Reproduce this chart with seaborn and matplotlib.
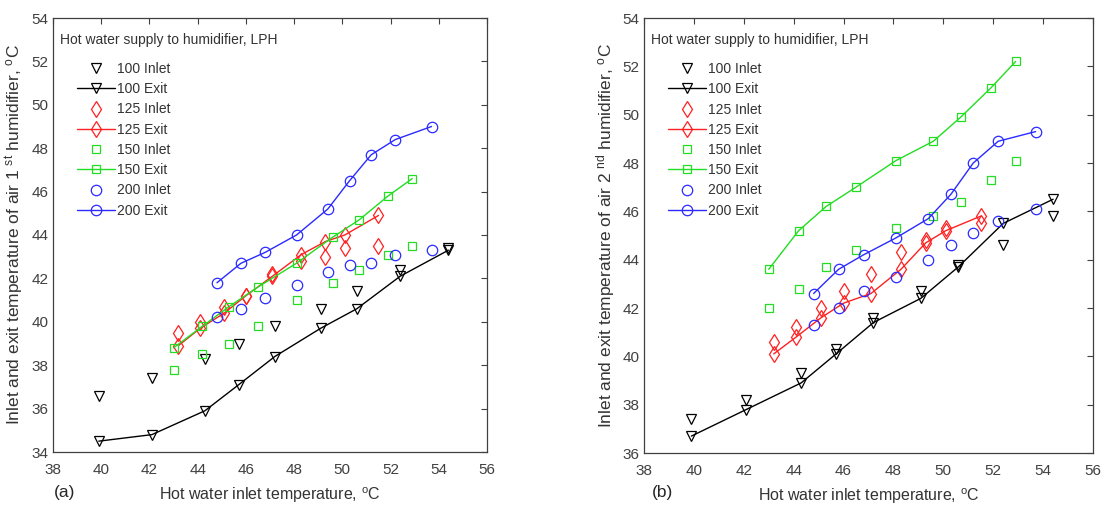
import matplotlib
matplotlib.use("Agg")
from matplotlib import pyplot as plt
import seaborn as sns

# ---------------------------------------------------------------- data (a)
x100_a = [39.9, 42.1, 44.3, 45.7, 47.2, 49.1, 50.6, 52.4, 54.4]
in100_a = [36.6, 37.4, 38.3, 39.0, 39.8, 40.6, 41.4, 42.4, 43.4]
ex100_a = [34.5, 34.8, 35.9, 37.1, 38.4, 39.7, 40.6, 42.1, 43.3]

x125_a = [43.2, 44.1, 45.1, 46.0, 47.1, 48.3, 49.3, 50.1, 51.5]
in125_a = [39.5, 40.0, 40.7, 41.2, 42.2, 42.8, 43.0, 43.4, 43.5]
ex125_a = [38.9, 39.7, 40.4, 41.2, 42.1, 43.1, 43.7, 44.0, 44.9]

x150_a = [43.0, 44.2, 45.3, 46.5, 48.1, 49.6, 50.7, 51.9, 52.9]
in150_a = [37.8, 38.5, 39.0, 39.8, 41.0, 41.8, 42.4, 43.1, 43.5]
ex150_a = [38.8, 39.8, 40.7, 41.6, 42.7, 43.9, 44.7, 45.8, 46.6]

x200_a = [44.8, 45.8, 46.8, 48.1, 49.4, 50.3, 51.2, 52.2, 53.7]
in200_a = [40.2, 40.6, 41.1, 41.7, 42.3, 42.6, 42.7, 43.1, 43.3]
ex200_a = [41.8, 42.7, 43.2, 44.0, 45.2, 46.5, 47.7, 48.4, 49.0]

# ---------------------------------------------------------------- data (b)
x100_b = [39.9, 42.1, 44.3, 45.7, 47.2, 49.1, 50.6, 52.4, 54.4]
in100_b = [37.4, 38.2, 39.3, 40.3, 41.6, 42.7, 43.8, 44.6, 45.8]
ex100_b = [36.7, 37.8, 38.9, 40.1, 41.4, 42.4, 43.7, 45.5, 46.5]

x125_b = [43.2, 44.1, 45.1, 46.0, 47.1, 48.3, 49.3, 50.1, 51.5]
in125_b = [40.6, 41.2, 42.0, 42.7, 43.4, 44.3, 44.8, 45.3, 45.5]
ex125_b = [40.1, 40.8, 41.6, 42.2, 42.6, 43.6, 44.7, 45.2, 45.8]

x150_b = [43.0, 44.2, 45.3, 46.5, 48.1, 49.6, 50.7, 51.9, 52.9]
in150_b = [42.0, 42.8, 43.7, 44.4, 45.3, 45.8, 46.4, 47.3, 48.1]
ex150_b = [43.6, 45.2, 46.2, 47.0, 48.1, 48.9, 49.9, 51.1, 52.2]

x200_b = [44.8, 45.8, 46.8, 48.1, 49.4, 50.3, 51.2, 52.2, 53.7]
in200_b = [41.3, 42.0, 42.7, 43.3, 44.0, 44.6, 45.1, 45.6, 46.1]
ex200_b = [42.6, 43.6, 44.2, 44.9, 45.7, 46.7, 48.0, 48.9, 49.3]

flows = ["100", "125", "150", "200"]
colors = {"100": "black", "125": "#ff2020", "150": "#22dd22", "200": "#2a2aff"}
markers = {"100": "v", "125": "d", "150": "s", "200": "o"}
msizes = {"100": 7.5, "125": 8, "150": 5.5, "200": 7.5}

series_a = {"100": (x100_a, in100_a, ex100_a), "125": (x125_a, in125_a, ex125_a),
            "150": (x150_a, in150_a, ex150_a), "200": (x200_a, in200_a, ex200_a)}
series_b = {"100": (x100_b, in100_b, ex100_b), "125": (x125_b, in125_b, ex125_b),
            "150": (x150_b, in150_b, ex150_b), "200": (x200_b, in200_b, ex200_b)}

sns.set_theme(style="white")
plt.rcParams["font.family"] = ["Liberation Sans", "DejaVu Sans"]
plt.rcParams["mathtext.fontset"] = "custom"
plt.rcParams["mathtext.rm"] = "Liberation Sans"
plt.rcParams["mathtext.it"] = "Liberation Sans"

fig = plt.figure(figsize=(11.04, 5.08), dpi=100)
ax_a = fig.add_axes([53 / 1104, 56 / 508, 434 / 1104, 434 / 508])
ax_b = fig.add_axes([644 / 1104, 55 / 508, 449 / 1104, 435 / 508])


def draw_panel(ax, series, ylim, ylabel):
    for f in flows:
        x, y_in, y_ex = series[f]
        c = colors[f]
        sns.lineplot(x=x, y=y_in, ax=ax, marker=markers[f], linestyle="", color=c,
                     markersize=msizes[f], markerfacecolor="none", markeredgecolor=c,
                     markeredgewidth=0.9, label=f"{f} Inlet")
        sns.lineplot(x=x, y=y_ex, ax=ax, marker=markers[f], color=c, linewidth=1.0,
                     markersize=msizes[f], markerfacecolor="none", markeredgecolor=c,
                     markeredgewidth=0.9, label=f"{f} Exit")
    ax.set_xlim(38, 56)
    ax.set_ylim(*ylim)
    ax.set_xticks(range(38, 57, 2))
    ax.set_yticks(range(ylim[0], ylim[1] + 1, 2))
    ax.tick_params(direction="in", top=True, right=True, length=4, width=0.8,
                   labelsize=11, labelcolor="#404040", color="#404040")
    ax.tick_params(axis="x", pad=8)
    for s in ax.spines.values():
        s.set_color("#404040")
        s.set_linewidth(0.9)
    ax.set_xlabel("Hot water inlet temperature, $^{\\rm o}$C", fontsize=11.5,
                  color="#333333", labelpad=6)
    ax.set_ylabel(ylabel, fontsize=12.5, color="#333333", labelpad=4)

    # legend title drawn as its own text, entries indented as in the original
    h_ax = ax.get_position().height * 508
    w_ax = ax.get_position().width * 1104
    ax.text(7 / w_ax, 1 - 22 / h_ax, "Hot water supply to humidifier, LPH",
            transform=ax.transAxes, fontsize=10, color="#333333", va="center")
    leg = ax.legend(loc="upper left", bbox_to_anchor=(24 / w_ax, 1 - 44 / h_ax),
                    frameon=False, fontsize=10, handlelength=2.7, handletextpad=0.2,
                    labelspacing=0.45, borderaxespad=0.0, borderpad=0.0)
    for t in leg.get_texts():
        t.set_color("#333333")


draw_panel(ax_a, series_a, (34, 54),
           "Inlet and exit temperature of air 1 $^{\\rm st}$ humidifier, $^{\\rm o}$C")
draw_panel(ax_b, series_b, (36, 54),
           "Inlet and exit temperature of air 2 $^{\\rm nd}$ humidifier, $^{\\rm o}$C")

fig.text(54 / 1104, 1 - 492 / 508, "(a)", fontsize=12.5, va="center")
fig.text(652 / 1104, 1 - 492 / 508, "(b)", fontsize=12.5, va="center")

fig.savefig("out.png", dpi=100, facecolor="white")
